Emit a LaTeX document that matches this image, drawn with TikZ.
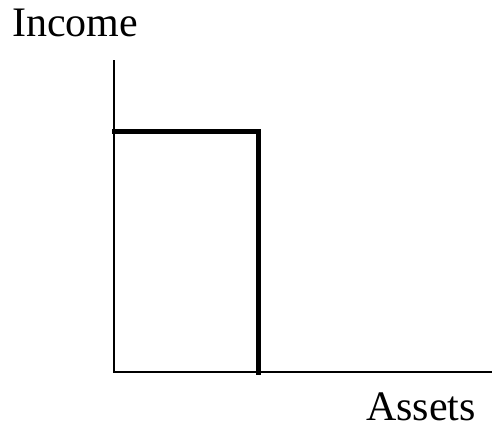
\documentclass[tikz,border=0pt]{standalone}
\usepackage{fontspec}
\setmainfont{Liberation Serif}
\begin{document}
\begin{tikzpicture}[x=1pt,y=-1pt,
  axisline/.style={line width=2pt},
  stepline/.style={line width=5pt},
  lbl/.style={font=\fontsize{42}{50}\selectfont, inner sep=0pt, anchor=base west}]
\useasboundingbox (0,0) rectangle (492,431);
\coordinate (top) at (114,60);
\coordinate (origin) at (114,372);
\coordinate (right) at (492,372);
\coordinate (a) at (112,131.5);
\coordinate (b) at (258,131.5);
\coordinate (c) at (258,375);
\draw[axisline] (top) -- (origin) -- (right);
\draw[stepline, line join=miter] (a) -- (b) -- (c);
\node[lbl] (income) at (12,36) {Income};
\node[lbl] (assets) at (366,420) {Assets};
\end{tikzpicture}
\end{document}
